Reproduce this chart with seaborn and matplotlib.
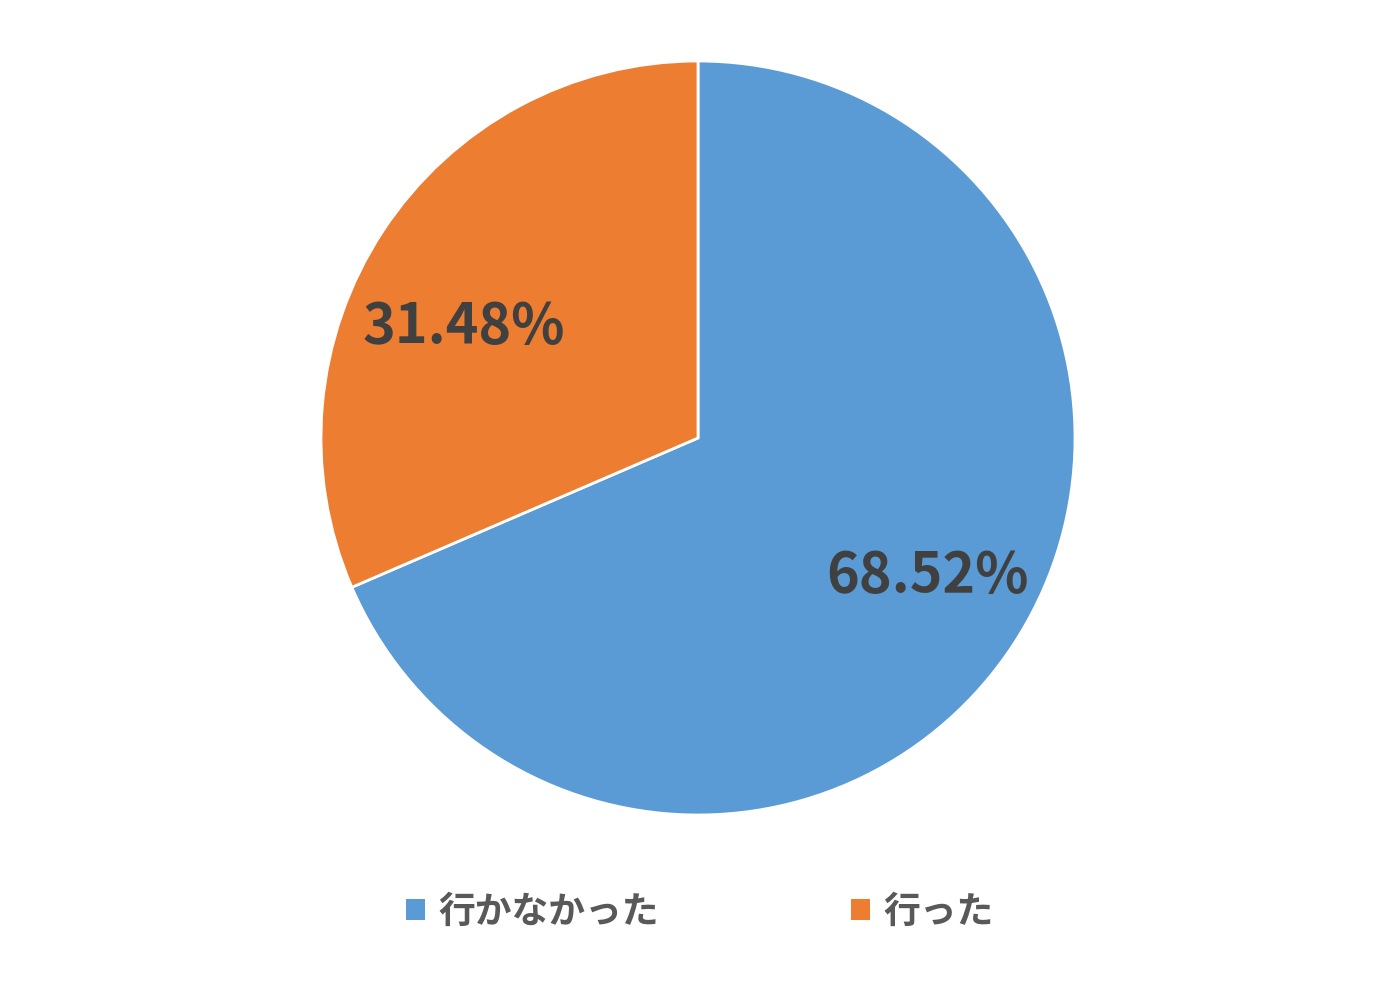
import matplotlib
matplotlib.use("Agg")
import matplotlib.pyplot as plt
import seaborn as sns
from matplotlib.patches import Patch

# ============ DATA ============
categories = ["行かなかった", "行った"]
shares = [68.52, 31.48]
colors = ["#5B9BD5", "#ED7D31"]
# where Excel put the % labels (pie radius units)
label_pos = [(0.61, -0.365), (-0.62, 0.295)]

sns.set_theme(style="white")
plt.rcParams['font.family'] = ['Noto Sans CJK JP', 'DejaVu Sans']

fig = plt.figure(figsize=(14, 9.97), dpi=100)
# pie centre ~ (698, 438) px, radius ~ 377 px
ax = fig.add_axes([(698 - 377) / 1400, (997 - 438 - 377) / 997, 754 / 1400, 754 / 997])

wedges, texts, autotexts = ax.pie(
    shares, colors=colors, startangle=90, counterclock=False,
    autopct=lambda p: f"{p:.2f}%", pctdistance=0.7,
    wedgeprops=dict(edgecolor="white", linewidth=2),
    textprops=dict(color="#404040", fontsize=40, fontweight="bold"),
)
for t, pos in zip(autotexts, label_pos):
    t.set_position(pos)
ax.set_aspect("equal")
ax.set_xlim(-1, 1)
ax.set_ylim(-1, 1)

handles = [Patch(facecolor=c, edgecolor="none") for c in colors]
fig.legend(handles, categories, loc="center", bbox_to_anchor=(0.5, 1 - 912 / 997),
           ncol=2, frameon=False, handlelength=0.52, handleheight=0.52,
           handletextpad=0.38, columnspacing=5.2,
           prop=dict(family=['Noto Sans CJK JP', 'DejaVu Sans'], size=26.5, weight="bold"),
           labelcolor="#595959")

fig.savefig("out.png", dpi=100, facecolor="white")
